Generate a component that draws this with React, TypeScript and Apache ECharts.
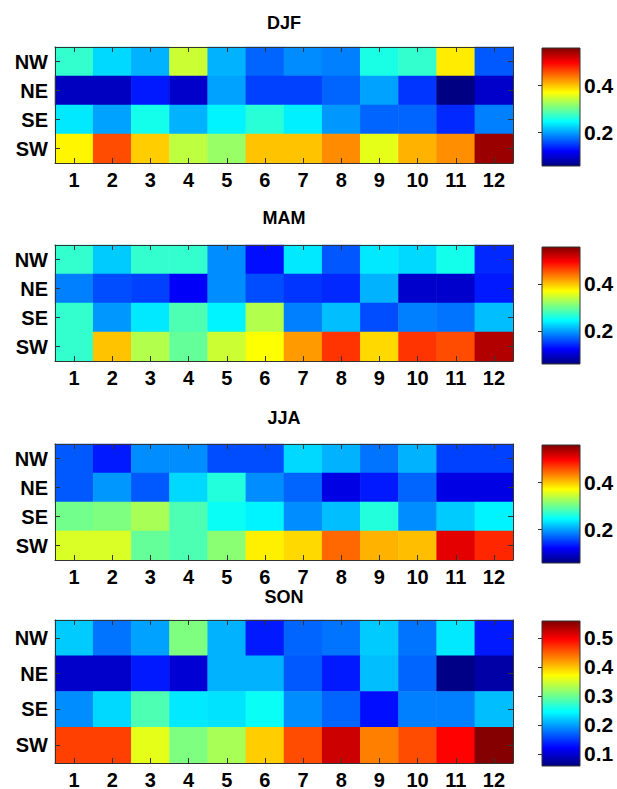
import React, { useEffect, useRef } from "react";
import * as echarts from "echarts";

// ---- data ----
const months = ["1", "2", "3", "4", "5", "6", "7", "8", "9", "10", "11", "12"];
const directions = ["NW", "NE", "SE", "SW"];
const seasons = ["DJF", "MAM", "JJA", "SON"];

const djfNW = [0.27, 0.227, 0.208, 0.345, 0.208, 0.17, 0.189, 0.183, 0.258, 0.27, 0.38, 0.164];
const djfNE = [0.09, 0.09, 0.133, 0.095, 0.2, 0.152, 0.152, 0.17, 0.2, 0.146, 0.06, 0.095];
const djfSE = [0.235, 0.2, 0.255, 0.208, 0.24, 0.265, 0.238, 0.195, 0.17, 0.17, 0.14, 0.183];
const djfSW = [0.375, 0.458, 0.395, 0.339, 0.32, 0.4, 0.4, 0.427, 0.358, 0.408, 0.425, 0.545];

const mamNW = [0.27, 0.22, 0.27, 0.27, 0.19, 0.127, 0.235, 0.163, 0.235, 0.227, 0.255, 0.14];
const mamNE = [0.183, 0.158, 0.152, 0.118, 0.19, 0.158, 0.146, 0.14, 0.208, 0.096, 0.096, 0.133];
const mamSE = [0.27, 0.195, 0.235, 0.283, 0.24, 0.333, 0.183, 0.214, 0.158, 0.183, 0.177, 0.214];
const mamSW = [0.27, 0.4, 0.333, 0.295, 0.345, 0.37, 0.42, 0.47, 0.389, 0.47, 0.458, 0.533];

const jjaNW = [0.164, 0.133, 0.19, 0.19, 0.158, 0.158, 0.227, 0.208, 0.177, 0.208, 0.152, 0.152];
const jjaNE = [0.164, 0.195, 0.164, 0.227, 0.262, 0.19, 0.17, 0.108, 0.133, 0.17, 0.108, 0.108];
const jjaSE = [0.302, 0.308, 0.328, 0.283, 0.25, 0.24, 0.19, 0.214, 0.262, 0.19, 0.22, 0.24];
const jjaSW = [0.352, 0.352, 0.295, 0.283, 0.314, 0.378, 0.389, 0.445, 0.408, 0.402, 0.508, 0.477];

const sonNW = [0.22, 0.177, 0.2, 0.308, 0.208, 0.133, 0.17, 0.177, 0.22, 0.177, 0.235, 0.133];
const sonNE = [0.095, 0.095, 0.133, 0.1, 0.208, 0.208, 0.164, 0.133, 0.214, 0.17, 0.062, 0.077];
const sonSE = [0.19, 0.227, 0.283, 0.235, 0.232, 0.25, 0.19, 0.17, 0.127, 0.183, 0.183, 0.214];
const sonSW = [0.464, 0.464, 0.358, 0.308, 0.328, 0.395, 0.458, 0.52, 0.433, 0.458, 0.495, 0.555];

const seasonRows = [
  [djfNW, djfNE, djfSE, djfSW],
  [mamNW, mamNE, mamSE, mamSW],
  [jjaNW, jjaNE, jjaSE, jjaSW],
  [sonNW, sonNE, sonSE, sonSW],
];

const colorMin = 0.058;
const colorMax = 0.558;
const cbTicksShort = [0.2, 0.4];
const cbTicksFull = [0.1, 0.2, 0.3, 0.4, 0.5];
const cbTicks = [cbTicksShort, cbTicksShort, cbTicksShort, cbTicksFull];

const jet = ["#00007F", "#0000FF", "#007FFF", "#00FFFF", "#7FFF7F", "#FFFF00", "#FF7F00", "#FF0000", "#7F0000"];

// ---- layout ----
const FONT = "'Liberation Sans', Arial, sans-serif";
const heatLeft = 55;
const heatWidth = 458;
const heatTops = [47, 245, 444, 620];
const heatHeights = [116, 116, 116, 143];
const cbLeft = 542;
const cbWidth = 38;
const cbTops = [48, 247, 445, 621];
const cbHeights = [118, 117, 118, 145];
const titleY = [23, 218, 418, 597];
const axisColor = "#333";

export default function App() {
  const ref = useRef<HTMLDivElement>(null);

  useEffect(() => {
    if (!ref.current) return;
    const chart = echarts.init(ref.current, undefined, { renderer: "svg" });

    const gradient = () =>
      new echarts.graphic.LinearGradient(
        0, 0, 0, 1,
        jet.slice().reverse().map((c, i) => ({ offset: i / (jet.length - 1), color: c }))
      );

    const grids: any[] = [];
    seasons.forEach((_, i) => {
      grids.push({
        left: heatLeft, width: heatWidth, top: heatTops[i], height: heatHeights[i],
        containLabel: false, outerBoundsMode: "none",
      });
    });
    seasons.forEach((_, i) => {
      grids.push({
        left: cbLeft, width: cbWidth, top: cbTops[i], height: cbHeights[i],
        show: true, borderColor: axisColor, borderWidth: 1,
        backgroundColor: gradient(),
        containLabel: false, outerBoundsMode: "none",
      });
    });

    const tickStyle = { show: true, inside: true, alignWithLabel: true, length: 5, lineStyle: { color: axisColor, width: 1 } };
    const lineStyle = { show: true, onZero: false, lineStyle: { color: axisColor, width: 1 } };
    const labelStyle = { fontSize: 20, fontWeight: "bold", color: "#000", fontFamily: FONT };

    const xAxes: any[] = [];
    const yAxes: any[] = [];
    seasons.forEach((_, i) => {
      xAxes.push({
        gridIndex: i, type: "category", data: months, position: "bottom", z: 10,
        axisLine: lineStyle, axisTick: tickStyle,
        axisLabel: { ...labelStyle, margin: 9, lineHeight: 15, interval: 0 },
        splitLine: { show: false },
      });
      yAxes.push({
        gridIndex: i, type: "category", data: directions, inverse: true, position: "left", z: 10,
        axisLine: lineStyle, axisTick: tickStyle,
        axisLabel: { ...labelStyle, margin: 7, interval: 0 },
        splitLine: { show: false },
      });
    });
    seasons.forEach((_, i) => {
      xAxes.push({
        gridIndex: i, type: "category", data: months, position: "top", z: 10,
        axisLine: lineStyle, axisTick: tickStyle, axisLabel: { show: false },
        splitLine: { show: false },
      });
      yAxes.push({
        gridIndex: i, type: "category", data: directions, inverse: true, position: "right", z: 10,
        axisLine: lineStyle, axisTick: tickStyle, axisLabel: { show: false },
        splitLine: { show: false },
      });
    });
    seasons.forEach((_, i) => {
      xAxes.push({ gridIndex: 4 + i, type: "value", show: false, min: 0, max: 1 });
      yAxes.push({
        gridIndex: 4 + i, type: "value", min: colorMin, max: colorMax, position: "right", z: 10,
        axisLine: { show: false },
        axisTick: { show: true, inside: true, length: 4, customValues: cbTicks[i], lineStyle: { color: axisColor } },
        axisLabel: {
          show: true, customValues: cbTicks[i], margin: 4, fontSize: 21, fontWeight: "bold",
          color: "#000", fontFamily: FONT, formatter: (v: number) => v.toFixed(1),
        },
        splitLine: { show: false },
      });
    });

    const series = seasons.map((_, i) => {
      const data: number[][] = [];
      seasonRows[i].forEach((row, r) => {
        row.forEach((v, c) => data.push([c, r, v]));
      });
      return {
        type: "heatmap", xAxisIndex: i, yAxisIndex: i, data,
        itemStyle: { borderWidth: 0 },
        emphasis: { disabled: true },
      };
    });

    const graphic = seasons.map((s, i) => ({
      type: "text", x: heatLeft + heatWidth / 2, y: titleY[i],
      style: {
        text: s, fontSize: 18, fontWeight: "bold", fill: "#000", fontFamily: FONT,
        align: "center", verticalAlign: "middle", textAlign: "center", textVerticalAlign: "middle",
      },
    }));

    chart.setOption({
      animation: false,
      backgroundColor: "#fff",
      textStyle: { fontFamily: FONT },
      grid: grids,
      xAxis: xAxes,
      yAxis: yAxes,
      visualMap: {
        show: false, type: "continuous", min: colorMin, max: colorMax, dimension: 2,
        seriesIndex: [0, 1, 2, 3], inRange: { color: jet },
      },
      series,
      graphic,
    });

    return () => chart.dispose();
  }, []);

  return (
    <div
      ref={ref}
      style={{ position: "absolute", left: 0, top: 0, width: 617, height: 789, background: "#fff" }}
    />
  );
}
